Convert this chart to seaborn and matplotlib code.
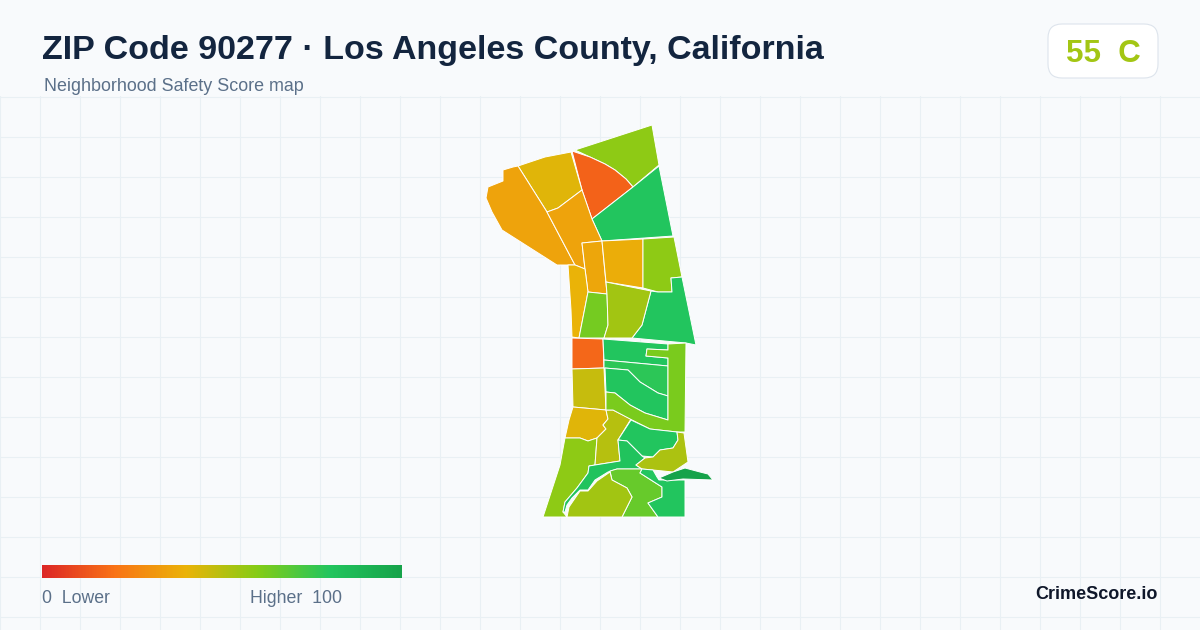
import numpy as np
import seaborn as sns
import matplotlib.pyplot as plt
from matplotlib.patches import FancyBboxPatch

sns.set_theme(style="white")
plt.rcParams['font.family'] = ['Liberation Sans', 'DejaVu Sans']

title = "ZIP Code 90277 · Los Angeles County, California"
subtitle = "Neighborhood Safety Score map"
overall_score = "55  C"
brand = "CrimeScore.io"

score_stops = ["#dc2626", "#f97316", "#eab308", "#84cc16", "#22c55e", "#16a34a"]

# tract outlines
north_east = [(575, 150), (652, 125), (659, 165), (633, 187), (626, 179), (615, 170), (605, 164), (590, 157)]
north_red = [(572, 151), (590, 157), (605, 164), (615, 170), (626, 179), (633, 187), (592, 219), (582, 190)]
north_green = [(659, 166), (673, 236), (602, 241), (592, 219), (633, 187)]
north_yellow = [(518, 166), (545, 157), (571, 152), (582, 190), (570, 199), (558, 208), (547, 212)]
west_big = [(518, 166), (513, 167), (503, 170), (503, 181), (488, 187), (486, 198),
            (492, 212), (502, 230), (557, 265), (575, 265), (547, 212)]
mid_orange = [(547, 212), (558, 208), (570, 199), (582, 190), (592, 219), (602, 241), (582, 243),
              (585, 269), (575, 265)]
mid_narrow = [(582, 243), (602, 241), (607, 294), (588, 292), (585, 269)]
mid_amber = [(602, 241), (643, 239), (643, 288), (606, 282)]
mid_lime = [(643, 239), (674, 237), (682, 277), (671, 278), (672, 292), (658, 292), (643, 288)]
east_green = [(671, 278), (682, 277), (696, 345), (686, 343), (632, 338), (642, 325),
              (651, 291), (658, 292), (672, 292)]
coast_strip = [(568, 265), (575, 265), (585, 269), (588, 292), (579, 338), (572, 337), (571, 310)]
coast_lime = [(588, 292), (607, 294), (608, 325), (604, 338), (579, 338)]
mid_olive = [(606, 282), (651, 291), (642, 325), (632, 338), (604, 338), (608, 325), (607, 294)]
coast_red = [(572, 338), (603, 339), (604, 368), (572, 369)]
coast_olive = [(572, 369), (604, 368), (606, 410), (573, 407)]
coast_amber = [(573, 407), (606, 410), (608, 419), (603, 425), (606, 429), (597, 438),
               (588, 441), (580, 438), (565, 438), (569, 420)]
south_lime = [(565, 438), (580, 438), (588, 441), (597, 438), (595, 465), (589, 466),
              (588, 473), (577, 488), (565, 502), (563, 512), (567, 517), (543, 517), (560, 465)]
south_olive = [(597, 438), (606, 429), (603, 425), (608, 419), (606, 410), (613, 410),
               (631, 419), (618, 440), (620, 461), (595, 465)]
block_top = [(603, 339), (668, 344), (668, 350), (647, 349), (646, 356), (668, 358),
             (668, 366), (604, 360)]
block_mid = [(604, 360), (668, 366), (668, 396), (658, 393), (640, 382), (628, 370), (604, 368)]
block_low = [(605, 368), (628, 370), (640, 382), (658, 393), (668, 396), (668, 420),
             (645, 413), (630, 405), (615, 393), (606, 392)]
east_strip = [(606, 392), (615, 393), (630, 405), (645, 413), (668, 420), (668, 358),
              (646, 356), (647, 349), (668, 350), (668, 344),
              (686, 343), (685, 432), (677, 432), (650, 429), (632, 420), (613, 410), (606, 410)]
hill_green = [(631, 420), (650, 429), (677, 432), (678, 440), (673, 448), (660, 450),
              (653, 457), (642, 456), (627, 441), (618, 440)]
hill_band = [(618, 440), (627, 441), (642, 456), (645, 458), (636, 465), (642, 469),
             (617, 469), (608, 472), (595, 480), (588, 490), (580, 490), (572, 498),
             (567, 505), (565, 512), (563, 512), (565, 502), (577, 488), (588, 473),
             (589, 466), (595, 465), (620, 461)]
hill_olive = [(645, 458), (653, 457), (660, 450), (673, 448), (678, 440), (677, 432),
              (684, 433), (688, 462), (673, 472), (653, 470), (642, 469), (636, 465)]
south_mid = [(610, 471), (617, 469), (642, 469), (640, 473), (662, 487), (662, 497),
             (648, 503), (658, 517), (622, 517), (632, 497), (627, 488), (612, 480)]
south_west = [(567, 517), (569, 507), (580, 491), (588, 491), (597, 481), (610, 472), (612, 480),
              (627, 488), (632, 497), (622, 517)]
south_east = [(642, 469), (653, 470), (657, 477), (659, 480), (685, 480), (685, 517),
              (658, 517), (648, 503), (662, 497), (662, 487), (640, 473)]
point_tip = [(659, 478), (673, 472), (685, 468), (700, 472), (708, 474), (713, 480),
             (683, 479), (667, 481)]

tracts = [north_east, north_red, north_green, north_yellow, west_big, mid_orange,
          mid_narrow, mid_amber, mid_lime, east_green, coast_strip, coast_lime,
          mid_olive, coast_red, coast_olive, coast_amber, south_lime, south_olive,
          block_top, block_mid, block_low, east_strip, hill_green, hill_band,
          hill_olive, south_mid, south_west, south_east, point_tip]
scores = [58, 16, 80, 42, 35, 35,
          36, 38, 58, 80, 40, 63,
          54, 17, 47, 42, 58, 50,
          80, 78, 80, 62, 80, 81,
          52, 66, 54, 80, 100]

cmap = sns.blend_palette(score_stops, n_colors=256, as_cmap=True)

fig = plt.figure(figsize=(12, 6.3), dpi=100, facecolor="#f8fafc")
ax = fig.add_axes([0, 0, 1, 534 / 630], facecolor="#f8fafc")
ax.set_xlim(0, 1200)
ax.set_ylim(630, 96)
ax.set_xticks(np.arange(0, 1200, 40))
ax.set_yticks(np.arange(97, 630, 40))
ax.grid(True, color="#e9f0f4", lw=0.8)
ax.tick_params(length=0, labelbottom=False, labelleft=False)
sns.despine(ax=ax, left=True, bottom=True)
ax.set_axisbelow(True)

for tract, score in zip(tracts, scores):
    xs, ys = zip(*tract)
    ax.fill(xs, ys, facecolor=cmap(score / 100), edgecolor="white", lw=0.7, joinstyle="round")

ax.text(42, 59, title, fontsize=24.5, fontweight="bold", color="#13253f", clip_on=False)
ax.text(44, 91, subtitle, fontsize=12.9, color="#5b7089", clip_on=False)

badge = FancyBboxPatch((1048, 24), 110, 54, boxstyle="round,pad=0,rounding_size=14",
                       facecolor="white", edgecolor="#dde4ec", lw=0.8, clip_on=False, zorder=3)
ax.add_patch(badge)
ax.text(1103, 62, overall_score, fontsize=22.5, fontweight="bold", color="#a3c614",
        ha="center", zorder=4, clip_on=False)

# legend ramp
ramp_ax = fig.add_axes([42 / 1200, 1 - 578 / 630, 360 / 1200, 13 / 630])
sns.heatmap(np.linspace(0, 100, 360).reshape(1, -1), ax=ramp_ax, cmap=cmap, vmin=0, vmax=100,
            cbar=False, xticklabels=False, yticklabels=False, rasterized=True)

ax.text(42, 603, "0  Lower", fontsize=12.7, color="#5b7089")
ax.text(342, 603, "Higher  100", fontsize=12.8, color="#5b7089", ha="right")
ax.text(1158, 599, brand, fontsize=13, fontweight="bold", color="#0f172a", ha="right")

fig.savefig("out.png", dpi=100, facecolor=fig.get_facecolor())
